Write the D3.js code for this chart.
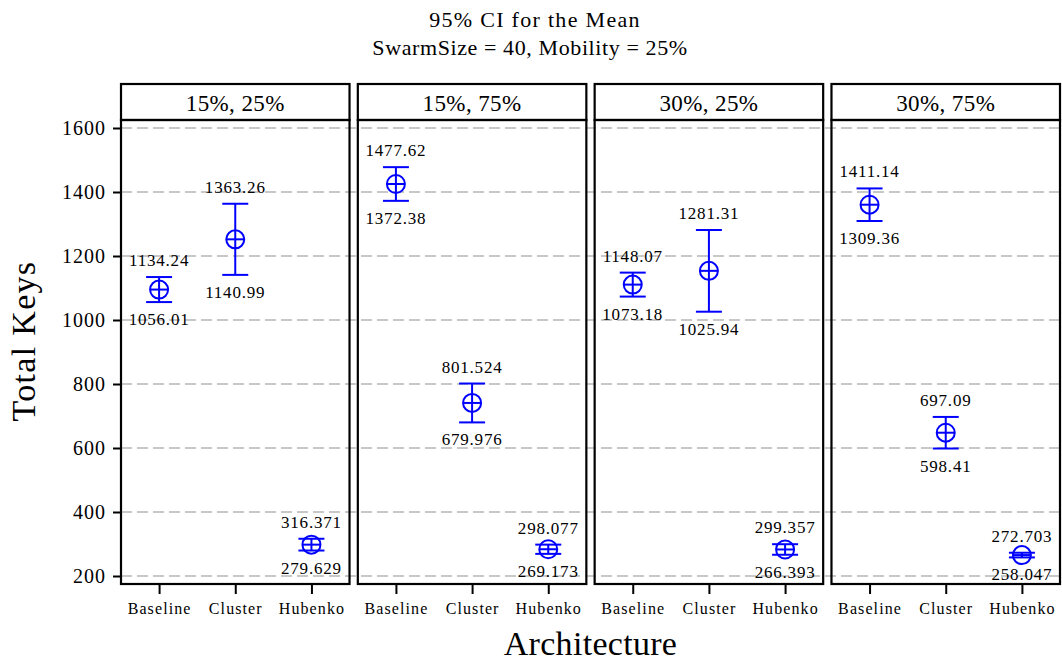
<!DOCTYPE html>
<html>
<head>
<meta charset="utf-8">
<script src="https://cdn.jsdelivr.net/npm/d3@7"></script>
<style>
  html, body { margin: 0; padding: 0; background: #fff; }
  svg { display: block; }
  text { font-family: "Liberation Serif", "Times New Roman", serif; fill: #000; }
</style>
</head>
<body>
<svg id="chart" width="1062" height="663"></svg>
<script>
// Panel labels and architectures on the x axis
const panels = ["15%, 25%", "15%, 75%", "30%, 25%", "30%, 75%"];
const architectures = ["Baseline", "Cluster", "Hubenko"];

// Mean and 95% CI bounds of Total Keys, one row per panel
const means = [
  [1095.1, 1252.1, 298.0],
  [1425.0, 740.8, 283.6],
  [1110.6, 1153.6, 282.9],
  [1360.3, 647.8, 265.4]
];
const lower = [
  [1056.01, 1140.99, 279.629],
  [1372.38, 679.976, 269.173],
  [1073.18, 1025.94, 266.393],
  [1309.36, 598.41, 258.047]
];
const upper = [
  [1134.24, 1363.26, 316.371],
  [1477.62, 801.524, 298.077],
  [1148.07, 1281.31, 299.357],
  [1411.14, 697.09, 272.703]
];
const yTicks = [200, 400, 600, 800, 1000, 1200, 1400, 1600];

const svg = d3.select("#chart");
const plotLeft = 121, plotRight = 1060, plotTop = 120, plotBottom = 584, headerH = 36, gap = 8.3;
const panelW = (plotRight - plotLeft - gap * 3) / 4;
const blue = "#0000ff";
const fmt = d3.format(".6~g");

const y = d3.scaleLinear().domain([175, 1625]).range([plotBottom, plotTop]);
const px = d3.scaleBand().domain(panels).range([plotLeft, plotRight + gap]).paddingInner(0);
const x = d3.scalePoint().domain(architectures).range([0, panelW]).padding(0.5);

// Titles
svg.append("text").attr("x", 535).attr("y", 27).attr("text-anchor", "middle")
  .style("font-size", "22px").style("letter-spacing", "1.3px").text("95% CI for the Mean");
svg.append("text").attr("x", 530).attr("y", 55).attr("text-anchor", "middle")
  .style("font-size", "22px").style("letter-spacing", "0.6px").text("SwarmSize = 40, Mobility = 25%");

// Dashed reference lines across all panels
svg.append("g").selectAll("line").data(yTicks).join("line")
  .attr("x1", plotLeft).attr("x2", plotRight)
  .attr("y1", d => y(d)).attr("y2", d => y(d))
  .attr("stroke", "#c8c8c8").attr("stroke-width", 2).attr("stroke-dasharray", "11,5");

// Left y axis
const yAxis = svg.append("g").attr("transform", `translate(${plotLeft},0)`)
  .call(d3.axisLeft(y).tickValues(yTicks).tickSize(8).tickPadding(7).tickFormat(d3.format("d")));
yAxis.select(".domain").remove();
yAxis.selectAll(".tick line").attr("stroke", "#000").attr("stroke-width", 2);
yAxis.selectAll(".tick text").style("font-size", "20px").style("letter-spacing", "1px")
  .style("font-family", '"Liberation Serif", serif').attr("fill", "#000");

panels.forEach((p, i) => {
  const x0 = px(p);
  const g = svg.append("g").attr("transform", `translate(${x0},0)`);

  // Strip header
  g.append("rect").attr("x", 0).attr("y", plotTop - headerH).attr("width", panelW).attr("height", headerH)
    .attr("fill", "#fff").attr("stroke", "#000").attr("stroke-width", 2.2);
  g.append("text").attr("x", panelW / 2).attr("y", plotTop - 9).attr("text-anchor", "middle")
    .style("font-size", "23px").style("letter-spacing", "0.4px").text(p);

  // Bottom axis with category ticks
  const xa = g.append("g").attr("transform", `translate(0,${plotBottom})`)
    .call(d3.axisBottom(x).tickSize(10).tickPadding(9));
  xa.select(".domain").remove();
  xa.selectAll(".tick line").attr("stroke", "#000").attr("stroke-width", 2);
  xa.selectAll(".tick text").style("font-size", "16px").style("letter-spacing", "1.1px")
    .style("font-family", '"Liberation Serif", serif').attr("fill", "#000");

  const rows = architectures.map((a, j) => ({ a, m: means[i][j], lo: lower[i][j], hi: upper[i][j] }));
  const cap = 13;

  const e = g.append("g").selectAll("g").data(rows).join("g")
    .attr("transform", d => `translate(${x(d.a)},0)`);
  e.append("line").attr("x1", 0).attr("x2", 0).attr("y1", d => y(d.lo)).attr("y2", d => y(d.hi))
    .attr("stroke", blue).attr("stroke-width", 2);
  e.append("line").attr("x1", -cap).attr("x2", cap).attr("y1", d => y(d.hi)).attr("y2", d => y(d.hi))
    .attr("stroke", blue).attr("stroke-width", 2);
  e.append("line").attr("x1", -cap).attr("x2", cap).attr("y1", d => y(d.lo)).attr("y2", d => y(d.lo))
    .attr("stroke", blue).attr("stroke-width", 2);
  // Mean marker: circle with cross
  e.append("circle").attr("cx", 0).attr("cy", d => y(d.m)).attr("r", 9)
    .attr("fill", "none").attr("stroke", blue).attr("stroke-width", 2);
  e.append("line").attr("x1", -9).attr("x2", 9).attr("y1", d => y(d.m)).attr("y2", d => y(d.m))
    .attr("stroke", blue).attr("stroke-width", 2);

  // CI bound labels
  e.append("text").attr("x", 0).attr("y", d => y(d.hi) - 11).attr("text-anchor", "middle")
    .style("font-size", "17px").style("letter-spacing", "0.8px").text(d => fmt(d.hi));
  e.append("text").attr("x", 0).attr("y", d => y(d.lo) + 23).attr("text-anchor", "middle")
    .style("font-size", "17px").style("letter-spacing", "0.8px").text(d => fmt(d.lo));

  // Panel frame
  g.append("rect").attr("x", 0).attr("y", plotTop).attr("width", panelW).attr("height", plotBottom - plotTop)
    .attr("fill", "none").attr("stroke", "#000").attr("stroke-width", 2.2);
});

// Axis titles
svg.append("text").attr("transform", "translate(35,341) rotate(-90)")
  .attr("text-anchor", "middle").style("font-size", "34px").style("letter-spacing", "1.3px").text("Total Keys");
svg.append("text").attr("x", (plotLeft + plotRight) / 2).attr("y", 655).attr("text-anchor", "middle")
  .style("font-size", "34px").style("letter-spacing", "0.3px").text("Architecture");
</script>
</body>
</html>
